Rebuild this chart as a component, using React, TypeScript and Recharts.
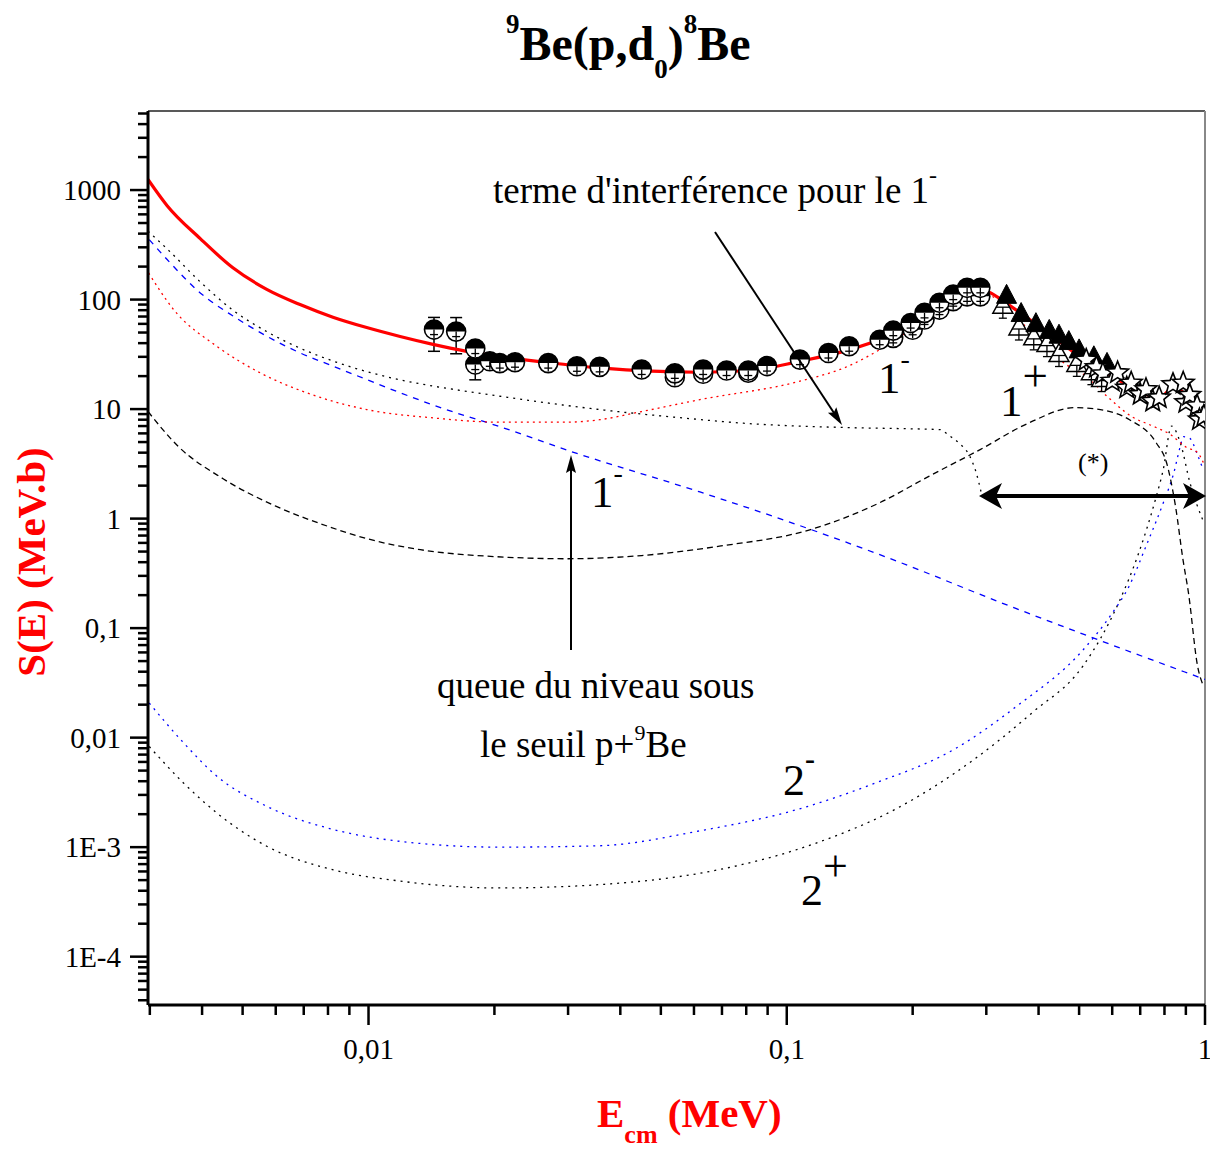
import React from 'react';
import { ComposedChart, Line, Scatter, XAxis, YAxis, ErrorBar, ReferenceLine } from 'recharts';

const FONT = '"Liberation Serif", "Times New Roman", Times, serif';
const RED = '#ff0000';
const BLUE = '#0000ff';

// ---------- axes ----------
const X_DOMAIN = [0.00297, 1];
const Y_DOMAIN = [3.62e-5, 5270];
const X_MAJOR = [0.01, 0.1, 1];
const X_MAJOR_LABELS = ['0,01', '0,1', '1'];
const X_MINOR = [0.003, 0.004, 0.005, 0.006, 0.007, 0.008, 0.009, 0.02, 0.03, 0.04, 0.05, 0.06, 0.07, 0.08, 0.09, 0.2, 0.3, 0.4, 0.5, 0.6, 0.7, 0.8, 0.9];
const Y_MAJOR = [1e-4, 1e-3, 0.01, 0.1, 1, 10, 100, 1000];
const Y_MAJOR_LABELS = ['1E-4', '1E-3', '0,01', '0,1', '1', '10', '100', '1000'];
const Y_MINOR_MANTISSA = [2, 3, 4, 5, 6, 7, 8, 9];
const Y_MINOR: number[] = [];
for (let e = -5; e <= 3; e++) {
  for (const m of Y_MINOR_MANTISSA) {
    const v = Number((m * Math.pow(10, e)).toPrecision(3));
    if (v > Y_DOMAIN[0] && v < Y_DOMAIN[1]) Y_MINOR.push(v);
  }
}

// ---------- curves ----------
// total fit (red solid)
const TOTAL_X = [0.00297, 0.0033, 0.00396, 0.00474, 0.00571, 0.00686, 0.00822, 0.0099, 0.0119, 0.01426, 0.01717, 0.0206, 0.027, 0.0357, 0.0619, 0.0816, 0.1074, 0.1415, 0.1668, 0.2, 0.241, 0.278, 0.3, 0.317, 0.347, 0.417, 0.501, 0.601, 0.724, 0.778, 0.845, 0.902, 1.0];
const TOTAL_Y = [1250, 720, 360, 195, 124, 90, 69, 55.5, 46, 39, 33.7, 30.2, 26.5, 23.8, 21.7, 22.5, 27.3, 34.9, 43.1, 61.6, 94, 116.7, 119, 107, 84.5, 51.3, 30.4, 19.9, 13.6, 12.7, 16.1, 13.1, 7.0];

// 1- resonance (red dotted)
const RES1M_X = [0.00298, 0.00342, 0.00434, 0.00551, 0.00711, 0.0099, 0.0143, 0.0206, 0.03, 0.0357, 0.045, 0.062, 0.107, 0.14, 0.167, 0.2, 0.241, 0.27, 0.295, 0.32, 0.347, 0.4, 0.465, 0.52, 0.583, 0.666, 0.75, 0.83, 0.9, 0.96, 1.0];
const RES1M_Y = [175, 81, 37.4, 21.4, 14.1, 9.9, 8.3, 7.6, 7.6, 8.0, 9.5, 12.2, 17.9, 24.6, 35, 55, 90, 108, 112, 100, 76, 42, 25.6, 19.9, 13.1, 8.6, 7.0, 5.8, 4.5, 4.0, 3.0];

// interference term for 1- (black dotted)
const INTERF_X = [0.00297, 0.0033, 0.00396, 0.00474, 0.00571, 0.00686, 0.00822, 0.0099, 0.0119, 0.0143, 0.0172, 0.0206, 0.0357, 0.0564, 0.08, 0.135, 0.2, 0.232, 0.245, 0.258, 0.274, 0.284, 0.292];
const INTERF_Y = [421, 290, 145, 80, 51, 36, 27.5, 22, 18.5, 16.2, 14.5, 13.1, 9.9, 8.3, 7.4, 6.8, 6.6, 6.5, 5.7, 4.9, 3.7, 2.6, 1.7];

// sub-threshold level tail, 1- (blue dashed)
const SUB_X = [0.00299, 0.0033, 0.00396, 0.00475, 0.00571, 0.00686, 0.00824, 0.0099, 0.0119, 0.01427, 0.01716, 0.0195, 0.0305, 0.062, 0.1, 0.186, 0.32, 0.5, 1.0];
const SUB_Y = [353, 232, 115, 70.5, 46.3, 32.6, 24.6, 18.6, 14.1, 10.9, 8.6, 7.4, 4.1, 1.75, 0.95, 0.4, 0.175, 0.091, 0.034];

// 1+ (black dashed)
const ONEP_X = [0.00297, 0.0035, 0.0045, 0.006, 0.008, 0.01, 0.0133, 0.02, 0.03, 0.045, 0.069, 0.1135, 0.167, 0.2186, 0.29, 0.38, 0.487, 0.55, 0.66, 0.765, 0.81, 0.85, 0.886, 0.913, 0.96, 0.99];
const ONEP_Y = [9.5, 4.6, 2.3, 1.3, 0.85, 0.65, 0.52, 0.45, 0.43, 0.46, 0.56, 0.79, 1.4, 2.43, 4.27, 7.5, 10.3, 10, 8.0, 4.9, 3.2, 1.3, 0.42, 0.21, 0.045, 0.03];

// 2- (blue dotted)
const TWOM_X = [0.00299, 0.00361, 0.00434, 0.00571, 0.00824, 0.0119, 0.0206, 0.0357, 0.0614, 0.1056, 0.1628, 0.251, 0.3543, 0.5105, 0.6, 0.658, 0.7227, 0.7946, 0.8418, 0.8733, 0.8878, 0.92, 0.96, 0.99];
const TWOM_Y = [0.0207, 0.009, 0.00444, 0.00236, 0.00145, 0.00113, 0.001, 0.00103, 0.0014, 0.0022, 0.00385, 0.0078, 0.0193, 0.063, 0.137, 0.24, 0.56, 1.39, 2.6, 4.6, 5.6, 5.4, 3.8, 2.8];

// 2+ (black dotted)
const TWOP_X = [0.00299, 0.00361, 0.00434, 0.00571, 0.00824, 0.0119, 0.0206, 0.0357, 0.0684, 0.1176, 0.181, 0.28, 0.387, 0.5105, 0.6214, 0.6935, 0.7606, 0.7946, 0.8317, 0.8733, 0.9213, 0.99];
const TWOP_Y = [0.0083, 0.00386, 0.00205, 0.00102, 0.00062, 0.00049, 0.000424, 0.000455, 0.00062, 0.00109, 0.0022, 0.0063, 0.017, 0.045, 0.17, 0.48, 1.48, 2.8, 7.0, 4.9, 2.1, 0.95];

// ---------- data points ----------
const CIRC_ERR_X = [0.01434, 0.0162, 0.018];
const CIRC_ERR_Y = [53.2, 51, 25.5];
const CIRC_ERR_LO = [19.5, 19, 7];
const CIRC_ERR_HI = [15.5, 17.5, 7];

const CIRC_A_X = [0.018, 0.0195, 0.0206, 0.0224, 0.0269, 0.0315, 0.0357, 0.045, 0.054, 0.0631, 0.0718, 0.0809, 0.0897, 0.1075, 0.1258, 0.141, 0.1668, 0.1797, 0.1978, 0.2135, 0.2318, 0.25, 0.2699, 0.2903];
const CIRC_A_Y = [35.7, 27.3, 26.3, 26.8, 26.3, 24.6, 24.3, 23.0, 21.2, 23, 22.5, 22.5, 24.7, 28.3, 32.5, 37.5, 43, 52, 61, 75.6, 93.6, 111, 128, 128];

const CIRC_B_X = [0.054, 0.0631, 0.0809, 0.1797, 0.2, 0.2135, 0.2318, 0.25, 0.2699, 0.2903];
const CIRC_B_Y = [19.5, 21, 21.5, 44.7, 53, 65.8, 81, 96.7, 107, 107];

const TRI_FILLED_X = [0.3354, 0.3634, 0.3942, 0.4242, 0.4476, 0.4725, 0.5, 0.5423, 0.5831];
const TRI_FILLED_Y = [107, 73, 59, 51.2, 46.3, 40.5, 34, 29.4, 25.6];

const TRI_OPEN_X = [0.3286, 0.359, 0.3895, 0.4189, 0.4476, 0.4938, 0.535, 0.566];
const TRI_OPEN_Y = [87, 55, 44.7, 38.8, 31.5, 25.6, 21.5, 18.6];

const STAR_X = [0.52, 0.55, 0.57, 0.6, 0.6181, 0.65, 0.6661, 0.7, 0.7226, 0.75, 0.7771, 0.8384, 0.8869, 0.9, 0.9193, 0.9574, 0.97, 0.9937];
const STAR_Y = [28, 24, 21, 18, 21.5, 15.6, 17.3, 13.6, 15.1, 11.8, 12.7, 16.8, 17.3, 11.5, 13.4, 10.7, 8.0, 8.6];

const zip = (xs: number[], ys: number[]) => xs.map((x, i) => ({ x, y: ys[i] }));

const totalData = zip(TOTAL_X, TOTAL_Y);
const res1mData = zip(RES1M_X, RES1M_Y);
const interfData = zip(INTERF_X, INTERF_Y);
const subData = zip(SUB_X, SUB_Y);
const onePData = zip(ONEP_X, ONEP_Y);
const twoMData = zip(TWOM_X, TWOM_Y);
const twoPData = zip(TWOP_X, TWOP_Y);
const circErrData = CIRC_ERR_X.map((x, i) => ({ x, y: CIRC_ERR_Y[i], err: [CIRC_ERR_LO[i], CIRC_ERR_HI[i]] }));
const circAData = zip(CIRC_A_X, CIRC_A_Y);
const circBData = zip(CIRC_B_X, CIRC_B_Y);
const triFData = zip(TRI_FILLED_X, TRI_FILLED_Y);
const triOData = zip(TRI_OPEN_X, TRI_OPEN_Y);
const starData = zip(STAR_X, STAR_Y);

const near = (a: number, b: number) => Math.abs(a - b) <= Math.abs(b) * 1e-6;

// ---------- ticks ----------
const XTick = (props: any) => {
  const { x, y, payload } = props;
  const v = payload.value;
  const idx = X_MAJOR.findIndex((m) => near(v, m));
  const major = idx >= 0;
  return (
    <g>
      <line x1={x} x2={x} y1={y} y2={y + (major ? 20 : 10)} stroke="#000" strokeWidth={2.5} />
      {major && (
        <text x={x} y={y + 54} textAnchor="middle" fontFamily={FONT} fontSize={29} fill="#000">
          {X_MAJOR_LABELS[idx]}
        </text>
      )}
    </g>
  );
};

const YTick = (props: any) => {
  const { x, y, payload } = props;
  const v = payload.value;
  const idx = Y_MAJOR.findIndex((m) => near(v, m));
  const major = idx >= 0;
  return (
    <g>
      <line x1={x} x2={x - (major ? 18 : 10)} y1={y} y2={y} stroke="#000" strokeWidth={2.5} />
      {major && (
        <text x={x - 27} y={y} dy={10} textAnchor="end" fontFamily={FONT} fontSize={29} fill="#000">
          {Y_MAJOR_LABELS[idx]}
        </text>
      )}
    </g>
  );
};

// ---------- marker shapes ----------
const HalfCircle = (p: any) => {
  const { cx, cy } = p;
  if (cx == null || cy == null) return <g />;
  const r = 9.5;
  return (
    <g>
      <circle cx={cx} cy={cy} r={r} fill="#fff" stroke="#000" strokeWidth={1.6} />
      <path d={`M${cx - r},${cy} A${r},${r} 0 0 1 ${cx + r},${cy} Z`} fill="#000" />
      <line x1={cx} x2={cx} y1={cy} y2={cy + r - 1} stroke="#000" strokeWidth={1.3} />
      <line x1={cx - 4} x2={cx + 4} y1={cy + 5} y2={cy + 5} stroke="#000" strokeWidth={1.3} />
    </g>
  );
};

const FilledTri = (p: any) => {
  const { cx, cy } = p;
  if (cx == null || cy == null) return <g />;
  return <polygon points={`${cx},${cy - 12} ${cx - 10},${cy + 7} ${cx + 10},${cy + 7}`} fill="#000" stroke="#000" strokeWidth={1} />;
};

const OpenTri = (p: any) => {
  const { cx, cy } = p;
  if (cx == null || cy == null) return <g />;
  return (
    <g>
      <polygon points={`${cx},${cy - 11} ${cx - 10},${cy + 7} ${cx + 10},${cy + 7}`} fill="#fff" stroke="#000" strokeWidth={1.5} />
      <line x1={cx - 7} x2={cx + 7} y1={cy + 1} y2={cy + 1} stroke="#000" strokeWidth={1.3} />
      <line x1={cx} x2={cx} y1={cy + 1} y2={cy + 12} stroke="#000" strokeWidth={1.3} />
      <line x1={cx - 4} x2={cx + 4} y1={cy + 12} y2={cy + 12} stroke="#000" strokeWidth={1.3} />
    </g>
  );
};

const Star = (p: any) => {
  const { cx, cy } = p;
  if (cx == null || cy == null) return <g />;
  const pts: string[] = [];
  for (let i = 0; i < 10; i++) {
    const r = i % 2 === 0 ? 11.5 : 5;
    const a = -Math.PI / 2 + (i * Math.PI) / 5;
    pts.push(`${cx + r * Math.cos(a)},${cy + r * Math.sin(a)}`);
  }
  return <polygon points={pts.join(' ')} fill="#fff" stroke="#000" strokeWidth={1.6} />;
};

// ---------- annotation helpers ----------
const head = (tx: number, ty: number, fx: number, fy: number, len: number, half: number, notch: number) => {
  const dx = tx - fx;
  const dy = ty - fy;
  const L = Math.hypot(dx, dy);
  const ux = dx / L;
  const uy = dy / L;
  const nx = -uy;
  const ny = ux;
  const bx = tx - len * ux;
  const by = ty - len * uy;
  const mx = tx - (len - notch) * ux;
  const my = ty - (len - notch) * uy;
  return `${tx},${ty} ${bx + half * nx},${by + half * ny} ${mx},${my} ${bx - half * nx},${by - half * ny}`;
};

const Overlay = () => (
  <svg width={1210} height={1141} style={{ position: 'absolute', left: 0, top: 0, pointerEvents: 'none' }}>
    <g transform="translate(-8,-8)" fontFamily={FONT}>
      {/* title */}
      <text x={506} y={60} fontWeight="bold" fontSize={48} fill="#000">
        <tspan fontSize={27} dy={-27}>9</tspan>
        <tspan dy={27}>Be(p,d</tspan>
        <tspan fontSize={27} dy={18}>0</tspan>
        <tspan dy={-18}>)</tspan>
        <tspan fontSize={27} dy={-27}>8</tspan>
        <tspan dy={27}>Be</tspan>
      </text>

      {/* axis titles */}
      <text transform="translate(45,562) rotate(-90)" textAnchor="middle" fontWeight="bold" fontSize={41} fill={RED}>
        S(E) (MeV.b)
      </text>
      <text x={597} y={1127} fontWeight="bold" fontSize={41} fill={RED}>
        E<tspan fontSize={26} dy={16}>cm</tspan>
        <tspan dy={-16}> (MeV)</tspan>
      </text>

      {/* annotations */}
      <text x={493} y={203} fontSize={37} fill="#000">
        terme d'interférence pour le 1<tspan fontSize={24} dy={-20}>-</tspan>
      </text>
      <line x1={715} y1={232} x2={836} y2={416} stroke="#000" strokeWidth={2} />
      <polygon points={head(842, 425, 715, 232, 18, 5, 3)} fill="#000" />

      <text x={878} y={393} fontSize={45} fill="#000">
        1<tspan fontSize={28} dy={-25}>-</tspan>
      </text>
      <text x={1000} y={416} fontSize={45} fill="#000">
        1<tspan dy={-25}>+</tspan>
      </text>
      <text x={1078} y={471} fontSize={26} fill="#000">(*)</text>

      <line x1={995} y1={496} x2={1190} y2={496} stroke="#000" strokeWidth={4} />
      <polygon points={head(979, 496, 1206, 496, 23, 13, 6)} fill="#000" />
      <polygon points={head(1206, 496, 979, 496, 23, 13, 6)} fill="#000" />

      <text x={591} y={507} fontSize={45} fill="#000">
        1<tspan fontSize={28} dy={-25}>-</tspan>
      </text>
      <line x1={571} y1={650} x2={571} y2={466} stroke="#000" strokeWidth={2} />
      <polygon points={head(571, 455, 571, 650, 18, 5, 3)} fill="#000" />

      <text x={437} y={698} fontSize={37} fill="#000">queue du niveau sous</text>
      <text x={480} y={757} fontSize={37} fill="#000">
        le seuil p+<tspan fontSize={22} dy={-17}>9</tspan>
        <tspan dy={17}>Be</tspan>
      </text>

      <text x={783} y={795} fontSize={44} fill="#000">
        2<tspan fontSize={30} dy={-26} fontWeight="bold">-</tspan>
      </text>
      <text x={801} y={905} fontSize={44} fill="#000">
        2<tspan dy={-24}>+</tspan>
      </text>
    </g>
  </svg>
);

export default function App() {
  return (
    <div style={{ position: 'relative', width: 1210, height: 1141 }}>
      <ComposedChart width={1210} height={1141} margin={{ top: 103, right: 13, left: 40, bottom: 84 }}>
        <XAxis
          dataKey="x"
          type="number"
          scale="log"
          domain={X_DOMAIN}
          allowDataOverflow
          ticks={[...X_MINOR, ...X_MAJOR]}
          interval={0}
          tickSize={0}
          tickMargin={0}
          tickLine={false}
          tick={<XTick />}
          height={60}
          axisLine={{ stroke: '#000', strokeWidth: 3 }}
        />
        <YAxis
          dataKey="y"
          type="number"
          scale="log"
          domain={Y_DOMAIN}
          allowDataOverflow
          ticks={[...Y_MINOR, ...Y_MAJOR]}
          interval={0}
          tickSize={0}
          tickMargin={0}
          tickLine={false}
          tick={<YTick />}
          width={100}
          axisLine={{ stroke: '#000', strokeWidth: 3 }}
        />
        <ReferenceLine y={Y_DOMAIN[1]} stroke="#222" strokeWidth={1.5} />
        <ReferenceLine x={X_DOMAIN[1]} stroke="#888" strokeWidth={2} />

        <Line data={twoPData} dataKey="y" type="monotone" stroke="#000" strokeWidth={1.3} strokeDasharray="2 5" dot={false} isAnimationActive={false} />
        <Line data={twoMData} dataKey="y" type="monotone" stroke={BLUE} strokeWidth={1.3} strokeDasharray="2 5" dot={false} isAnimationActive={false} />
        <Line data={onePData} dataKey="y" type="monotone" stroke="#000" strokeWidth={1.3} strokeDasharray="6 4" dot={false} isAnimationActive={false} />
        <Line data={subData} dataKey="y" type="monotone" stroke={BLUE} strokeWidth={1.3} strokeDasharray="6 6" dot={false} isAnimationActive={false} />
        <Line data={interfData} dataKey="y" type="monotone" stroke="#000" strokeWidth={1.3} strokeDasharray="2 5" dot={false} isAnimationActive={false} />
        <Line data={res1mData} dataKey="y" type="monotone" stroke={RED} strokeWidth={1.3} strokeDasharray="2 4" dot={false} isAnimationActive={false} />

        <Scatter data={circBData} shape={<HalfCircle />} isAnimationActive={false} />
        <Scatter data={circErrData} shape={<HalfCircle />} isAnimationActive={false}>
          <ErrorBar dataKey="err" direction="y" width={6} stroke="#000" strokeWidth={1.5} />
        </Scatter>
        <Scatter data={circAData} shape={<HalfCircle />} isAnimationActive={false} />
        <Scatter data={triOData} shape={<OpenTri />} isAnimationActive={false} />
        <Scatter data={triFData} shape={<FilledTri />} isAnimationActive={false} />
        <Scatter data={starData} shape={<Star />} isAnimationActive={false} />

        <Line data={totalData} dataKey="y" type="monotone" stroke={RED} strokeWidth={3.2} dot={false} isAnimationActive={false} />
      </ComposedChart>
      <Overlay />
    </div>
  );
}
